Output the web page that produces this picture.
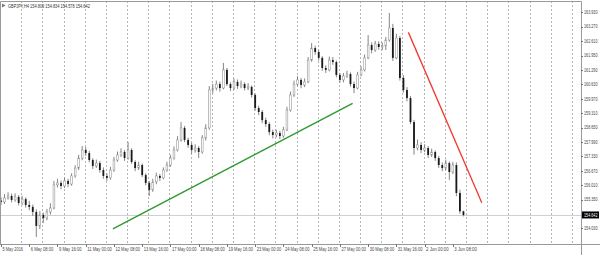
<!DOCTYPE html>
<html>
<head>
<meta charset="utf-8">
<script src="https://cdn.jsdelivr.net/npm/d3@7"></script>
<style>
  body { margin: 0; background: #fff; }
  svg { display: block; }
  text { font-family: 'Liberation Sans', Arial, sans-serif; }
</style>
</head>
<body>
<div id="chart"></div>
<script>
// GBPJPY H4, 5 May - 3 Jun 2016
let symbol = 'GBPJPY,H4'
let lastOHLC = ['154.809', '154.834', '154.578', '154.642']
let currentPrice = 154.642
let firstOpen = 155.30

let closes = [
  155.24, 155.42, 155.51, 155.33, 155.47, 155.19, 155.37, 155.10, 155.01, 154.78,
  154.14, 154.64, 154.50, 154.78, 154.96, 156.02, 156.11, 155.97, 156.20, 156.06,
  156.43, 156.79, 157.25, 157.62, 157.48, 157.16, 156.89, 157.02, 156.70, 156.43,
  156.34, 156.70, 157.16, 157.39, 157.53, 157.25, 157.62, 157.07, 156.79, 156.93,
  156.47, 156.11, 155.79, 156.16, 156.43, 156.34, 156.70, 156.93, 157.25, 157.62,
  158.08, 158.63, 158.08, 157.85, 157.62, 157.71, 157.53, 158.17, 158.63, 160.37,
  160.46, 160.64, 160.46, 161.29, 160.64, 160.46, 160.74, 160.55, 160.64, 160.46,
  160.51, 160.14, 159.54, 159.36, 158.99, 158.81, 158.44, 158.31, 158.40, 158.26,
  158.54, 159.45, 160.14, 160.64, 160.83, 160.60, 160.74, 161.74, 162.29, 162.11,
  161.84, 161.38, 161.29, 161.74, 161.65, 161.06, 160.83, 161.01, 161.10, 160.64,
  160.46, 161.06, 161.29, 161.84, 162.43, 162.20, 162.48, 162.34, 162.39, 162.66,
  163.21, 161.84, 162.75, 160.92, 160.37, 160.00, 158.90, 157.71, 157.85, 157.62,
  157.71, 157.39, 157.53, 157.25, 156.93, 156.79, 157.02, 156.61, 156.93, 155.65,
  154.81, 154.642
]

let highs = [
  155.45, 155.60, 155.68, 155.62, 155.63, 155.55, 155.52, 155.45, 155.28, 155.12,
  154.90, 154.82, 154.75, 154.92, 155.18, 156.20, 156.30, 156.22, 156.35, 156.30,
  156.55, 156.92, 157.40, 157.80, 157.75, 157.58, 157.25, 157.18, 157.12, 156.82,
  156.55, 156.85, 157.30, 157.55, 157.70, 157.62, 157.99, 157.70, 157.15, 157.08,
  157.00, 156.55, 156.20, 156.30, 156.58, 156.52, 156.82, 157.08, 157.40, 157.78,
  158.25, 158.90, 158.72, 158.18, 157.95, 157.88, 157.80, 158.30, 158.80, 160.55,
  160.65, 160.80, 160.75, 161.61, 161.38, 160.72, 160.88, 160.85, 160.80, 160.72,
  160.68, 160.58, 160.22, 159.65, 159.45, 159.10, 158.90, 158.55, 158.55, 158.50,
  158.68, 159.60, 160.30, 160.80, 161.00, 160.92, 160.90, 161.88, 162.52, 162.40,
  162.20, 161.92, 161.50, 161.90, 161.88, 161.72, 161.15, 161.15, 161.25, 161.18,
  160.75, 161.20, 161.45, 162.00, 162.89, 162.55, 162.62, 162.60, 162.55, 162.80,
  163.90, 163.40, 162.95, 162.85, 161.05, 160.50, 160.10, 159.00, 158.10, 157.98,
  157.88, 157.80, 157.68, 157.60, 157.35, 157.05, 157.18, 157.10, 157.08, 157.05,
  155.80, 154.834
]

let lows = [
  155.10, 155.15, 155.35, 155.22, 155.25, 155.08, 155.10, 154.98, 154.86, 154.60,
  153.63, 154.00, 154.28, 154.40, 154.66, 154.90, 155.90, 155.82, 155.88, 155.92,
  155.98, 156.35, 156.70, 157.15, 157.35, 157.05, 156.75, 156.80, 156.58, 156.30,
  156.20, 156.25, 156.62, 157.08, 157.30, 157.12, 157.18, 156.98, 156.65, 156.70,
  156.38, 156.00, 155.51, 155.70, 156.05, 156.20, 156.28, 156.62, 156.85, 157.18,
  157.55, 158.00, 157.98, 157.72, 157.45, 157.50, 157.25, 157.45, 158.05, 158.55,
  160.22, 160.35, 160.30, 160.40, 160.55, 160.32, 160.38, 160.42, 160.45, 160.35,
  160.36, 160.02, 159.42, 159.22, 158.85, 158.68, 158.30, 158.15, 158.20, 158.12,
  158.18, 158.48, 159.38, 160.05, 160.55, 160.45, 160.50, 160.68, 161.66, 161.98,
  161.72, 161.25, 161.15, 161.22, 161.52, 160.95, 160.70, 160.72, 160.92, 160.52,
  160.23, 160.40, 161.00, 161.22, 161.78, 162.05, 162.12, 162.22, 162.20, 162.20,
  162.58, 161.70, 161.78, 160.80, 160.25, 159.85, 158.80, 157.40, 157.60, 157.48,
  157.52, 157.25, 157.30, 157.12, 156.80, 156.65, 156.70, 156.25, 156.52, 155.50,
  154.70, 154.578
]

// one label every 8 bars
let timeLabels = [
  '5 May 2016', '6 May 08:00', '9 May 16:00', '11 May 00:00', '12 May 08:00',
  '13 May 16:00', '17 May 00:00', '18 May 08:00', '19 May 16:00', '23 May 00:00',
  '24 May 08:00', '25 May 16:00', '27 May 00:00', '30 May 08:00', '31 May 16:00',
  '2 Jun 00:00', '3 Jun 08:00'
]

let priceTicks = [
  163.930, 163.270, 162.610, 161.950, 161.290, 160.630, 159.970, 159.310,
  158.650, 157.990, 157.330, 156.670, 156.010, 155.350, 154.030
]

// trend lines: [bar index, price]
let greenLine = [[31.7, 154.00], [99.6, 159.76]]
let redLine = [[115.4, 163.01], [136.2, 155.20]]

let width = 600
let height = 255
let plot = { left: 0, right: 581, top: 1, bottom: 244 }

let svg = d3
  .select('#chart')
  .append('svg')
  .attr('width', width)
  .attr('height', height)

let xScale = d3
  .scaleLinear()
  .domain([0, 164.3])
  .range([1, plot.right])

let yScale = d3
  .scaleLinear()
  .domain([153.311, 164.402])
  .range([plot.bottom, 2])

let fmt = d3.format('.3f')

let bars = closes.map((c, i) => ({
  i: i,
  open: i === 0 ? firstOpen : closes[i - 1],
  high: highs[i],
  low: lows[i],
  close: c
}))

// vertical dotted grid, one per day (6 bars)
svg
  .append('g')
  .selectAll('line')
  .data(d3.range(6, 164, 6))
  .enter()
  .append('line')
  .attr('x1', d => Math.round(xScale(d)) - 0.5)
  .attr('x2', d => Math.round(xScale(d)) - 0.5)
  .attr('y1', plot.top)
  .attr('y2', plot.bottom)
  .attr('stroke', '#b4b4b4')
  .attr('stroke-width', 1)
  .attr('stroke-dasharray', '2,2')

// current price line
svg
  .append('line')
  .attr('x1', plot.left)
  .attr('x2', plot.right)
  .attr('y1', Math.round(yScale(currentPrice)) + 0.5)
  .attr('y2', Math.round(yScale(currentPrice)) + 0.5)
  .attr('stroke', '#cfcfcf')

// candles
let candles = svg.append('g')

candles
  .selectAll('.wick')
  .data(bars)
  .enter()
  .append('line')
  .attr('class', 'wick')
  .attr('x1', d => xScale(d.i))
  .attr('x2', d => xScale(d.i))
  .attr('y1', d => yScale(d.high))
  .attr('y2', d => yScale(d.low))
  .attr('stroke', '#777')
  .attr('stroke-width', 0.9)

candles
  .selectAll('.body')
  .data(bars)
  .enter()
  .append('rect')
  .attr('class', 'body')
  .attr('x', d => xScale(d.i) - 0.9)
  .attr('width', 1.8)
  .attr('y', d => yScale(Math.max(d.open, d.close)))
  .attr('height', d => Math.max(0.6, Math.abs(yScale(d.open) - yScale(d.close))))
  .attr('fill', d => (d.close >= d.open ? '#fff' : '#1a1a1a'))
  .attr('stroke', d => (d.close >= d.open ? '#888' : 'none'))
  .attr('stroke-width', 0.5)

// trend lines
let line = d3
  .line()
  .x(d => xScale(d[0]))
  .y(d => yScale(d[1]))

svg
  .append('path')
  .attr('d', line(greenLine))
  .attr('fill', 'none')
  .attr('stroke', '#2f9a2f')
  .attr('stroke-width', 1.4)

svg
  .append('path')
  .attr('d', line(redLine))
  .attr('fill', 'none')
  .attr('stroke', '#f03a30')
  .attr('stroke-width', 1.3)

// frame
svg
  .append('path')
  .attr('d', `M0.5,${plot.bottom + 0.5}V${plot.top + 0.5}H${plot.right + 0.5}V${height}`)
  .attr('fill', 'none')
  .attr('stroke', '#999')

svg
  .append('line')
  .attr('x1', 0)
  .attr('x2', width)
  .attr('y1', plot.bottom + 0.5)
  .attr('y2', plot.bottom + 0.5)
  .attr('stroke', '#999')

// header
svg
  .append('path')
  .attr('d', 'M2,3.5L5.5,5.5L2,7.5Z')
  .attr('fill', '#777')

let header = symbol + '  ' + lastOHLC.join(' ')
svg
  .append('text')
  .attr('x', 8)
  .attr('y', 7.5)
  .attr('font-size', 5)
  .attr('fill', '#333')
  .attr('textLength', header.length * 1.95)
  .attr('lengthAdjust', 'spacingAndGlyphs')
  .text(header)

// time axis
let timeAxis = svg.append('g')

timeAxis
  .selectAll('line')
  .data(timeLabels)
  .enter()
  .append('line')
  .attr('x1', (d, k) => Math.round(xScale(k * 8)) + 0.5)
  .attr('x2', (d, k) => Math.round(xScale(k * 8)) + 0.5)
  .attr('y1', plot.bottom)
  .attr('y2', plot.bottom + 3)
  .attr('stroke', '#777')

timeAxis
  .selectAll('text')
  .data(timeLabels)
  .enter()
  .append('text')
  .attr('x', (d, k) => xScale(k * 8) + 1.5)
  .attr('y', 250.5)
  .attr('font-size', 5)
  .attr('fill', '#444')
  .attr('textLength', d => d.length * 2.05)
  .attr('lengthAdjust', 'spacingAndGlyphs')
  .text(d => d)

// price axis
let priceAxis = svg.append('g')

priceAxis
  .selectAll('line')
  .data(priceTicks)
  .enter()
  .append('line')
  .attr('x1', plot.right)
  .attr('x2', plot.right + 2)
  .attr('y1', d => Math.round(yScale(d)) + 0.5)
  .attr('y2', d => Math.round(yScale(d)) + 0.5)
  .attr('stroke', '#777')

priceAxis
  .selectAll('text')
  .data(priceTicks)
  .enter()
  .append('text')
  .attr('x', plot.right + 3)
  .attr('y', d => yScale(d) + 1.8)
  .attr('font-size', 4.6)
  .attr('fill', '#444')
  .attr('textLength', 13.5)
  .attr('lengthAdjust', 'spacingAndGlyphs')
  .text(d => fmt(d))

// current price tag
let tagY = yScale(currentPrice)

svg
  .append('rect')
  .attr('x', plot.right + 1)
  .attr('y', tagY - 3.5)
  .attr('width', width - plot.right - 2)
  .attr('height', 7)
  .attr('fill', '#000')

svg
  .append('text')
  .attr('x', plot.right + 3)
  .attr('y', tagY + 1.8)
  .attr('font-size', 4.6)
  .attr('fill', '#fff')
  .attr('textLength', 13.5)
  .attr('lengthAdjust', 'spacingAndGlyphs')
  .text(fmt(currentPrice))
</script>
</body>
</html>
